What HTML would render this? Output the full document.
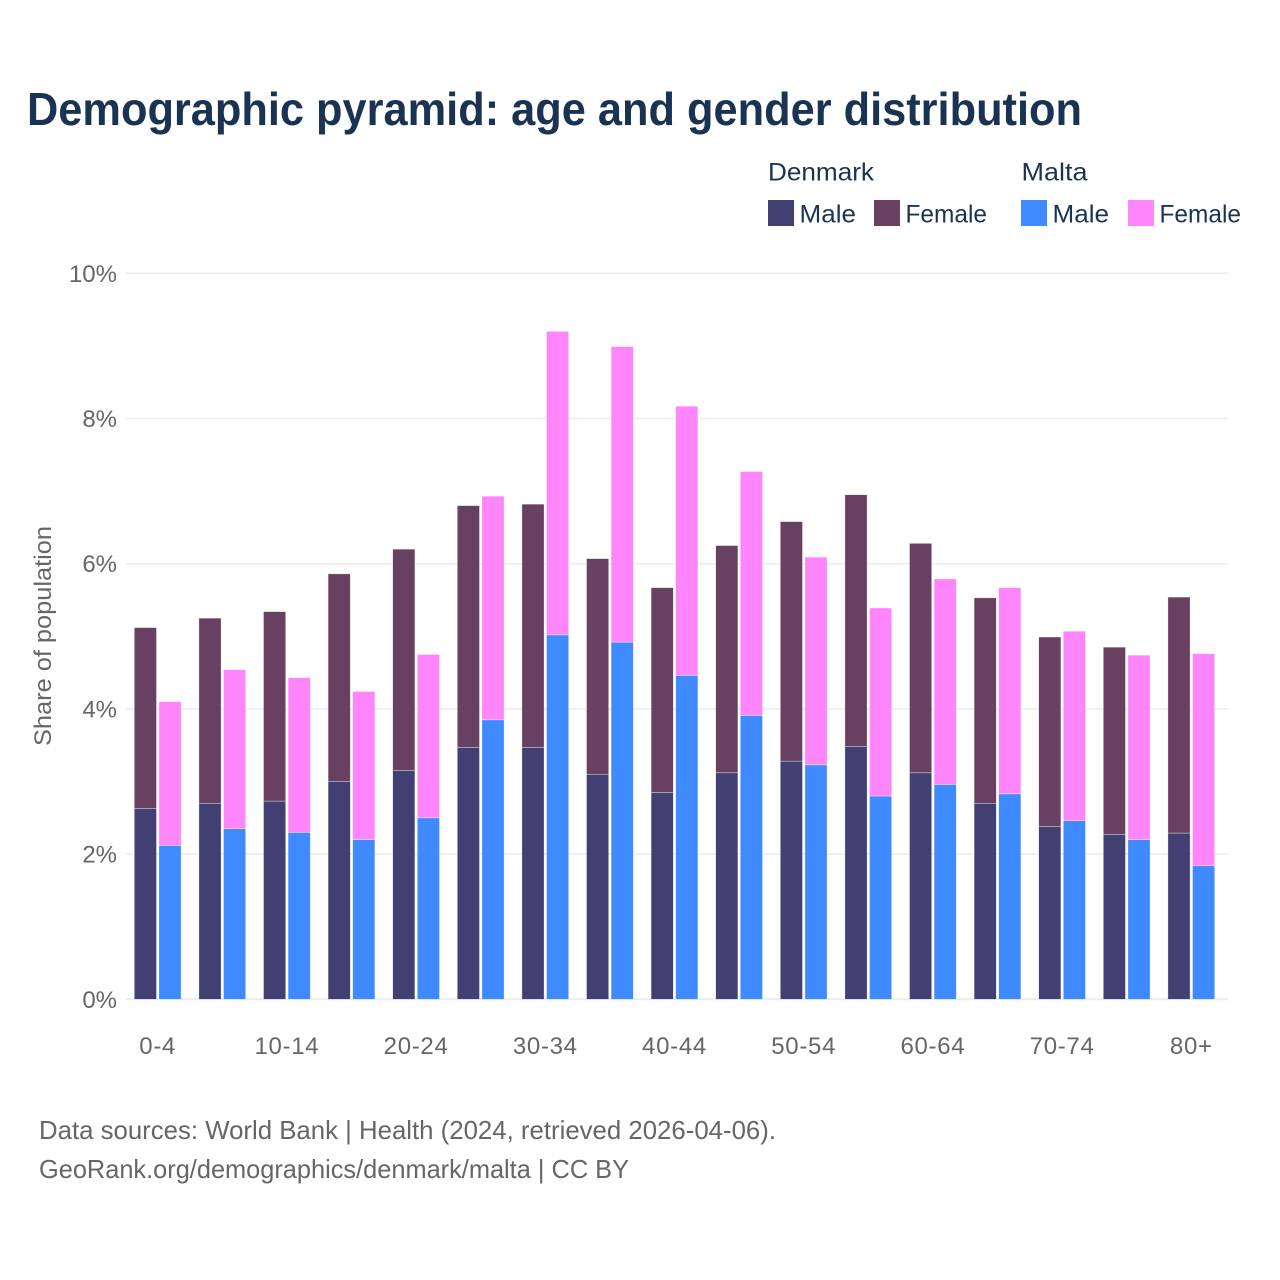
<!DOCTYPE html>
<html lang="en">
<head>
<meta charset="utf-8">
<title>Demographic pyramid: age and gender distribution</title>
<style>
html,body{margin:0;padding:0;background:#fff;}
svg{display:block;font-family:"Liberation Sans",sans-serif;}
.ink{fill:#1a3352;}
.mute{fill:#666;}
</style>
</head>
<body>
<svg id="chart" width="1280" height="1280" viewBox="0 0 1280 1280" xmlns="http://www.w3.org/2000/svg">
  <rect width="1280" height="1280" fill="#fff"/>
  <text class="ink" x="27" y="125" font-size="46" font-weight="700" textLength="1055" lengthAdjust="spacingAndGlyphs">Demographic pyramid: age and gender distribution</text>

  <g font-size="25" class="ink">
    <text class="ink" x="768" y="180.5" textLength="106" lengthAdjust="spacingAndGlyphs">Denmark</text>
    <text class="ink" x="1021.5" y="180.5" textLength="66" lengthAdjust="spacingAndGlyphs">Malta</text>
    <rect x="768" y="200" width="26" height="26" fill="#423f72"/>
    <text class="ink" x="799.5" y="222.5" textLength="56.5" lengthAdjust="spacingAndGlyphs">Male</text>
    <rect x="874" y="200" width="26" height="26" fill="#674062"/>
    <text class="ink" x="905.5" y="222.5" textLength="81.5" lengthAdjust="spacingAndGlyphs">Female</text>
    <rect x="1021" y="200" width="26" height="26" fill="#3f8aff"/>
    <text class="ink" x="1052.5" y="222.5" textLength="56.5" lengthAdjust="spacingAndGlyphs">Male</text>
    <rect x="1128" y="200" width="26" height="26" fill="#ff85fa"/>
    <text class="ink" x="1159.5" y="222.5" textLength="81.5" lengthAdjust="spacingAndGlyphs">Female</text>
  </g>

  <g id="grid"></g>
  <g id="yticks"></g>
  <g id="bars"></g>
  <g id="xticks"></g>

  <text class="mute" transform="translate(51,636) rotate(-90)" text-anchor="middle" font-size="24" textLength="220" lengthAdjust="spacingAndGlyphs">Share of population</text>

  <text class="mute" x="39" y="1139" font-size="26" textLength="737" lengthAdjust="spacingAndGlyphs">Data sources: World Bank | Health (2024, retrieved 2026-04-06).</text>
  <text class="mute" x="39" y="1178" font-size="26" textLength="590" lengthAdjust="spacingAndGlyphs">GeoRank.org/demographics/denmark/malta | CC BY</text>
</svg>
<script>
const ageGroups = ["0-4","5-9","10-14","15-19","20-24","25-29","30-34","35-39","40-44","45-49","50-54","55-59","60-64","65-69","70-74","75-79","80+"];
const xTickLabels = ["0-4","10-14","20-24","30-34","40-44","50-54","60-64","70-74","80+"];
const yTickValues = [0,2,4,6,8,10];
const denmarkMale = [2.63,2.70,2.73,3.00,3.15,3.47,3.47,3.10,2.85,3.12,3.28,3.48,3.12,2.70,2.38,2.27,2.29];
const denmarkFemale = [2.49,2.55,2.61,2.86,3.05,3.33,3.35,2.97,2.82,3.13,3.30,3.47,3.16,2.83,2.61,2.58,3.25];
const maltaMale = [2.12,2.35,2.30,2.20,2.50,3.85,5.02,4.92,4.46,3.91,3.23,2.80,2.96,2.83,2.46,2.20,1.84];
const maltaFemale = [1.98,2.19,2.13,2.04,2.25,3.08,4.18,4.07,3.71,3.36,2.86,2.59,2.83,2.84,2.61,2.54,2.92];

const NS = "http://www.w3.org/2000/svg";
const yScale = function (v) { return 999.3 - v * 72.6; };
const xScale = function (i) { return 134.3 + i * 64.6; };
const BAR_W = 22.2;
const BAR_GAP = 24.6;

const gridLayer = document.getElementById("grid");
const yTickLayer = document.getElementById("yticks");
const barLayer = document.getElementById("bars");
const xTickLayer = document.getElementById("xticks");

yTickValues.forEach(function (v) {
  const line = document.createElementNS(NS, "line");
  
  
  line.setAttribute("x1", 126);
  line.setAttribute("x2", 1228);
  line.setAttribute("y1", yScale(v));
  line.setAttribute("y2", yScale(v));
  line.setAttribute("stroke", "#ebebf0");
  line.setAttribute("stroke-width", v === 0 ? 2 : 1.5);
  gridLayer.appendChild(line);

  const label = document.createElementNS(NS, "text");
  
  
  label.setAttribute("x", 117);
  label.setAttribute("y", yScale(v) + 8.5);
  label.setAttribute("text-anchor", "end");
  label.setAttribute("font-size", 24);
  label.setAttribute("class", "mute");
  label.textContent = v + "%";
  yTickLayer.appendChild(label);
});

function addBar(x, base, value, fill) {
  const r = document.createElementNS(NS, "rect");
  
  
  const top = yScale(base + value);
  r.setAttribute("x", x);
  r.setAttribute("y", top);
  r.setAttribute("width", BAR_W);
  r.setAttribute("height", yScale(base) - top);
  r.setAttribute("fill", fill);
  r.setAttribute("stroke", "#fff");
  r.setAttribute("stroke-opacity", "0.6");
  r.setAttribute("stroke-width", "0.6");
  barLayer.appendChild(r);
}

ageGroups.forEach(function (g, i) {
  const x = xScale(i);
  addBar(x, 0, denmarkMale[i], "#423f72");
  addBar(x, denmarkMale[i], denmarkFemale[i], "#674062");
  addBar(x + BAR_GAP, 0, maltaMale[i], "#3f8aff");
  addBar(x + BAR_GAP, maltaMale[i], maltaFemale[i], "#ff85fa");
});

xTickLabels.forEach(function (t) {
  const i = ageGroups.indexOf(t);
  const label = document.createElementNS(NS, "text");
  
  
  label.setAttribute("x", xScale(i) + (BAR_GAP + BAR_W) / 2);
  label.setAttribute("y", 1054);
  label.setAttribute("text-anchor", "middle");
  label.setAttribute("font-size", 24);
  label.setAttribute("letter-spacing", "0.7");
  label.setAttribute("class", "mute");
  label.textContent = t;
  xTickLayer.appendChild(label);
});
</script>
</body>
</html>
